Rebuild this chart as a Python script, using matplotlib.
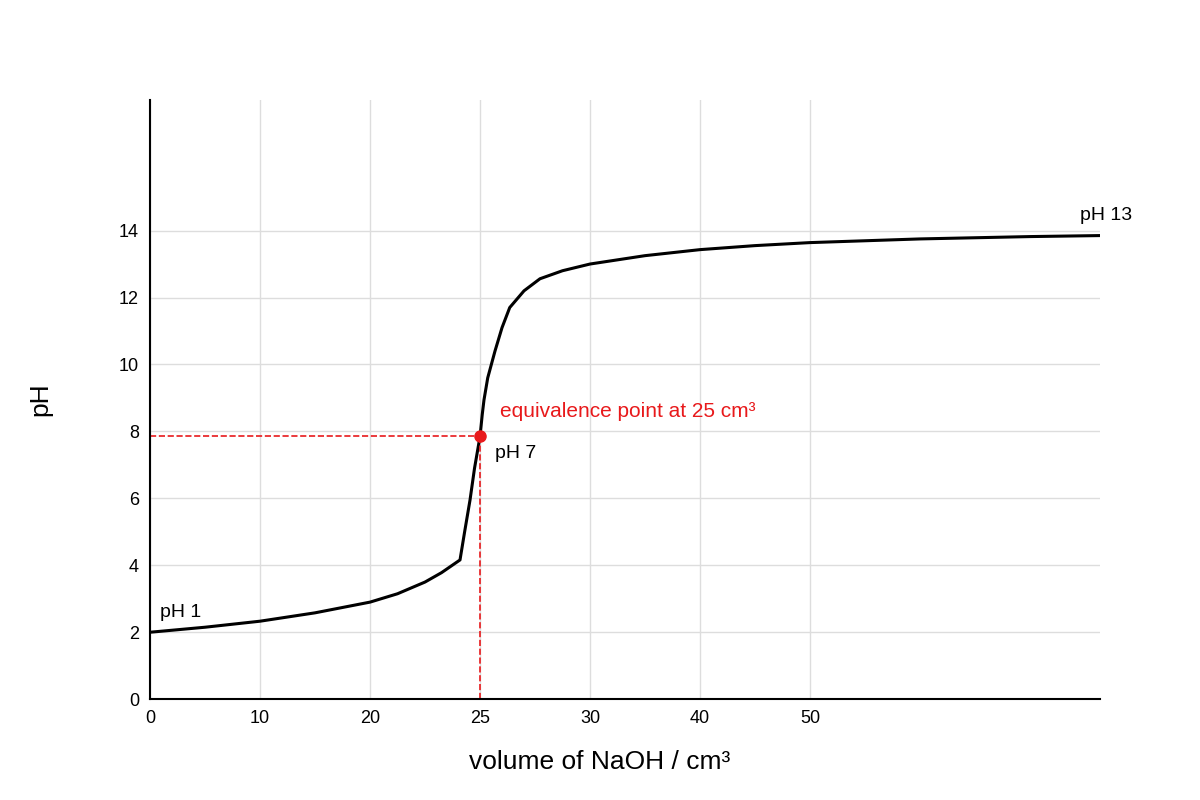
import matplotlib
matplotlib.use("Agg")
import matplotlib.pyplot as plt

plt.rcParams['font.family'] = ['Liberation Sans', 'DejaVu Sans']

tick_labels = ["0", "10", "20", "25", "30", "40", "50"]
yticks = [0, 2, 4, 6, 8, 10, 12, 14]
# curve in tick-position units (ticks evenly spaced)
curve_x = [0, 0.5, 1, 1.5, 2, 2.25, 2.5, 2.65, 2.818, 2.86, 2.909, 2.95, 3.0, 3.02, 3.036,
           3.07, 3.136, 3.2, 3.27, 3.4, 3.545, 3.75, 4, 4.5, 5, 5.5, 6, 7, 8, 8.636]
curve_y = [2.0, 2.15, 2.33, 2.58, 2.9, 3.15, 3.5, 3.78, 4.16, 5.0, 5.95, 6.9, 7.85, 8.5, 8.94,
           9.6, 10.4, 11.1, 11.7, 12.2, 12.56, 12.8, 13.0, 13.25, 13.43, 13.55, 13.64, 13.75, 13.82, 13.85]
eq_x, eq_y = 3.0, 7.85

fig = plt.figure(figsize=(12, 8), dpi=100)
ax = fig.add_axes([0.125, 0.126, 0.7917, 0.749])
ax.set_xlim(0, 8.636)
ax.set_ylim(0, 17.9)
ax.set_xticks(range(len(tick_labels)))
ax.set_xticklabels(tick_labels)
ax.set_yticks(yticks)
ax.grid(True, color='#dddddd', linewidth=1)
ax.set_axisbelow(True)
for s in ['top', 'right']:
    ax.spines[s].set_visible(False)
for s in ['left', 'bottom']:
    ax.spines[s].set_linewidth(1.5)
ax.tick_params(length=0, labelsize=13, pad=8)

ax.plot(curve_x, curve_y, color='black', linewidth=2.2, solid_joinstyle='round')
ax.plot([0, eq_x], [eq_y, eq_y], color='#e8191b', linestyle='--', linewidth=1.2)
ax.plot([eq_x, eq_x], [0, eq_y], color='#e8191b', linestyle='--', linewidth=1.2)
ax.plot([eq_x], [eq_y], 'o', color='#e8191b', markersize=8, zorder=5)

ax.text(3.18, 8.6, "equivalence point at 25 cm³", color='#e8191b', fontsize=15, va='center')
ax.text(3.14, 7.35, "pH 7", fontsize=14, va='center')
ax.text(0.09, 2.6, "pH 1", fontsize=14, va='center')
ax.text(8.93, 14.45, "pH 13", fontsize=14, va='center', ha='right', clip_on=False)

ax.set_xlabel("volume of NaOH / cm³", fontsize=19)
ax.xaxis.set_label_coords((600 - 150) / 950, -0.085)
ax.set_ylabel("pH", fontsize=19)
ax.yaxis.set_label_coords(-0.103, 0.5)

fig.savefig("out.png", dpi=100)
